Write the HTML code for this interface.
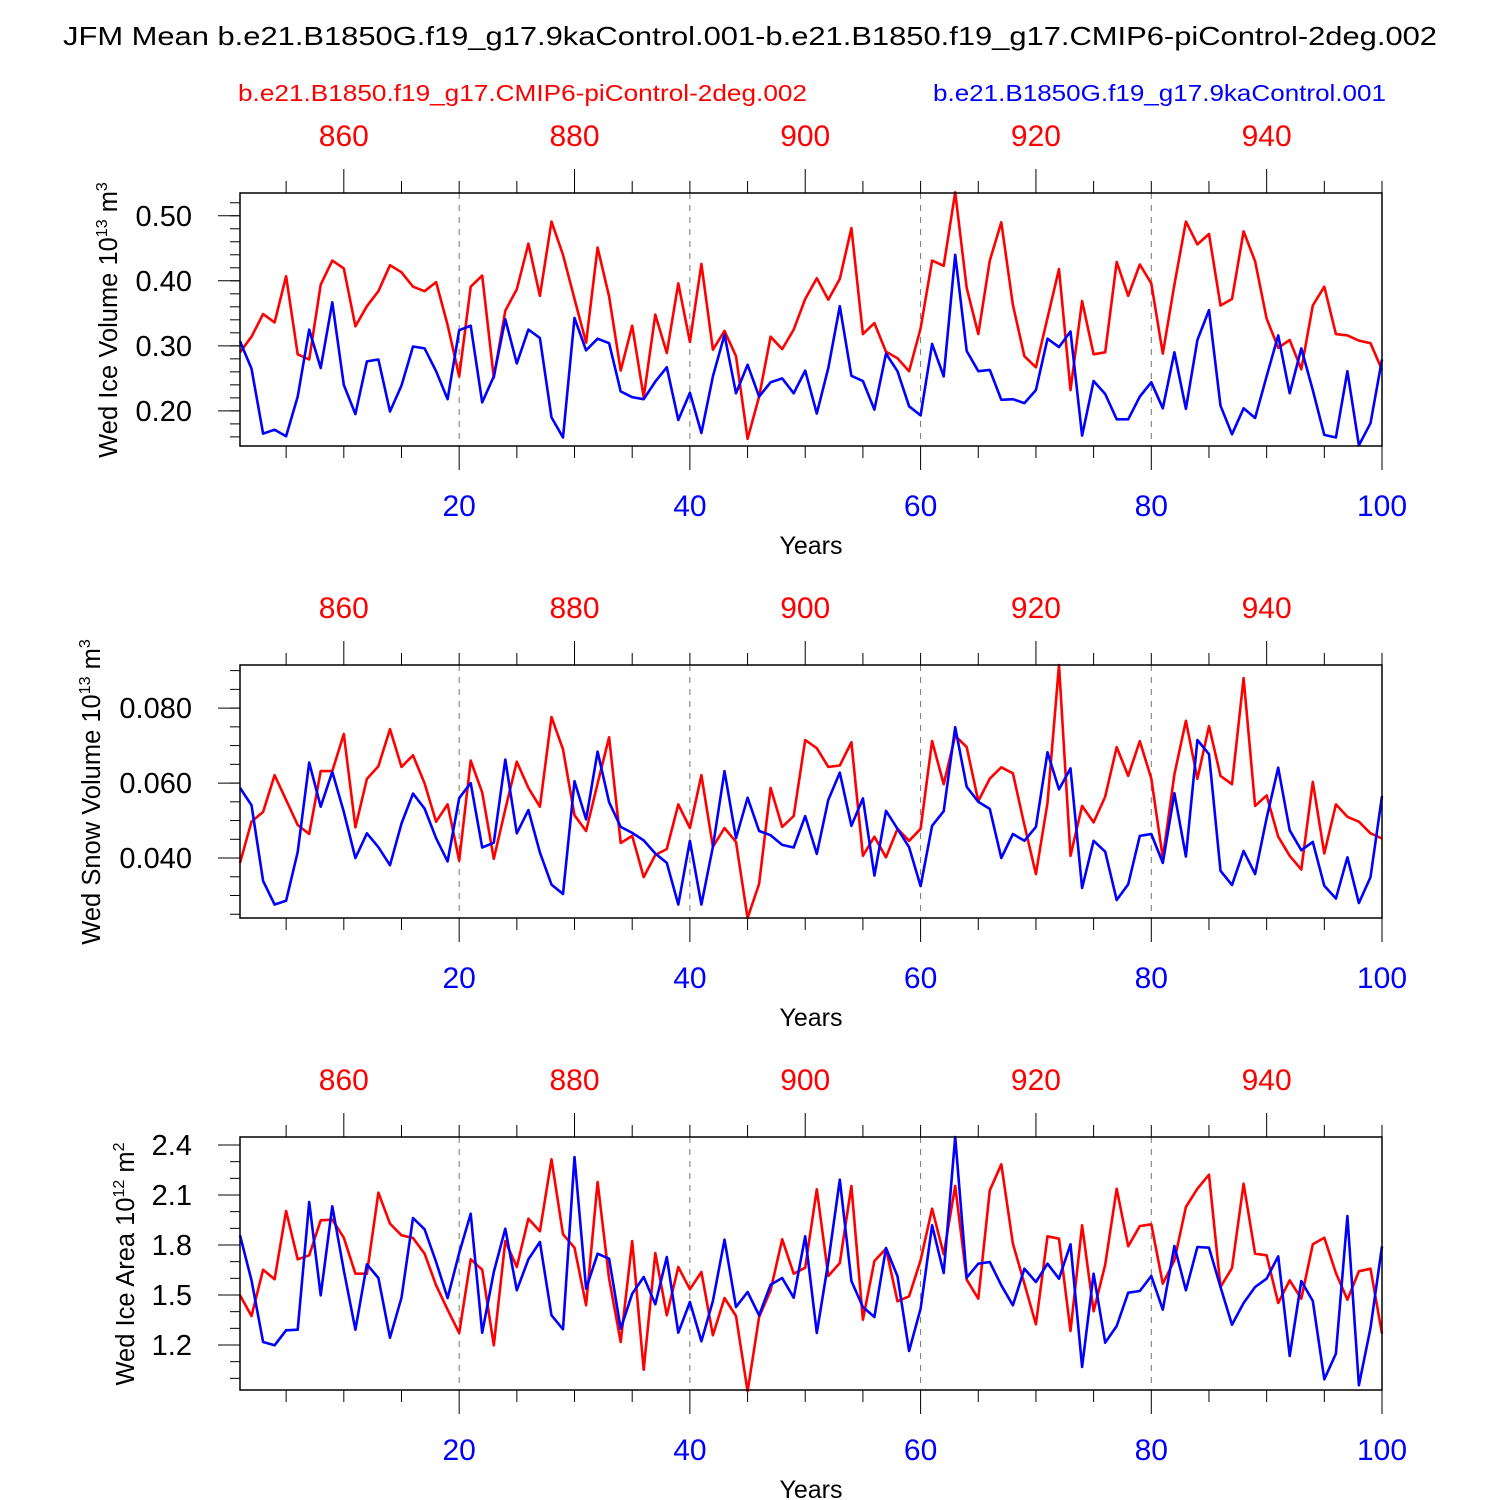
<!DOCTYPE html>
<html><head><meta charset="utf-8"><style>
html,body{margin:0;padding:0;background:#fff;}
svg{display:block;font-family:"Liberation Sans",Arial,sans-serif;}
</style></head><body>
<svg id="chart" width="1500" height="1500" viewBox="0 0 1500 1500" xmlns="http://www.w3.org/2000/svg">
<text x="63" y="45" font-size="26" textLength="1374" lengthAdjust="spacingAndGlyphs">JFM Mean b.e21.B1850G.f19_g17.9kaControl.001-b.e21.B1850.f19_g17.CMIP6-piControl-2deg.002</text>
<text x="238" y="101" font-size="23" fill="#ff0000" textLength="569" lengthAdjust="spacingAndGlyphs">b.e21.B1850.f19_g17.CMIP6-piControl-2deg.002</text>
<text x="933" y="101" font-size="23" fill="#0000ff" textLength="453" lengthAdjust="spacingAndGlyphs">b.e21.B1850G.f19_g17.9kaControl.001</text>
<g id="panels"></g>
</svg>
<script>
const years = Array.from({length:100},(_,i)=>i+1);
const bottomTicks = [20,40,60,80,100];
const topTicks = [860,880,900,920,940];
const redYearOffset = 850;

const iceVolRed = [0.290,0.314,0.349,0.336,0.407,0.287,0.279,0.394,0.431,0.419,0.330,0.361,0.384,0.424,0.413,0.391,0.384,0.398,0.332,0.253,0.391,0.408,0.251,0.354,0.387,0.457,0.377,0.491,0.440,0.372,0.305,0.451,0.376,0.262,0.331,0.221,0.348,0.289,0.396,0.306,0.426,0.294,0.323,0.284,0.157,0.222,0.314,0.295,0.325,0.372,0.404,0.371,0.403,0.481,0.318,0.335,0.291,0.281,0.261,0.327,0.431,0.423,0.536,0.389,0.318,0.431,0.490,0.363,0.284,0.267,0.343,0.418,0.232,0.369,0.287,0.290,0.429,0.377,0.425,0.396,0.288,0.394,0.491,0.456,0.472,0.362,0.372,0.476,0.430,0.342,0.297,0.309,0.264,0.362,0.391,0.318,0.316,0.308,0.304,0.263];
const iceVolBlue = [0.307,0.265,0.165,0.171,0.161,0.222,0.325,0.266,0.367,0.240,0.195,0.276,0.279,0.199,0.239,0.299,0.296,0.261,0.218,0.324,0.331,0.213,0.253,0.341,0.273,0.325,0.312,0.190,0.159,0.343,0.293,0.311,0.304,0.230,0.221,0.218,0.245,0.267,0.186,0.228,0.166,0.253,0.317,0.227,0.271,0.222,0.244,0.250,0.227,0.262,0.196,0.266,0.361,0.254,0.246,0.202,0.288,0.261,0.207,0.193,0.303,0.253,0.440,0.292,0.261,0.263,0.217,0.218,0.212,0.232,0.311,0.298,0.322,0.162,0.246,0.226,0.187,0.187,0.222,0.244,0.204,0.290,0.203,0.309,0.355,0.208,0.164,0.204,0.189,0.253,0.316,0.227,0.296,0.232,0.163,0.159,0.261,0.147,0.181,0.279];
const snowVolRed = [0.0387,0.0497,0.0523,0.0621,0.0555,0.0488,0.0464,0.0632,0.0632,0.0731,0.0482,0.0611,0.0645,0.0744,0.0643,0.0674,0.0599,0.0497,0.0543,0.0393,0.0660,0.0575,0.0398,0.0530,0.0657,0.0587,0.0537,0.0776,0.0690,0.0514,0.0472,0.0599,0.0722,0.0440,0.0459,0.0349,0.0408,0.0424,0.0543,0.0480,0.0621,0.0430,0.0480,0.0443,0.0240,0.0331,0.0587,0.0483,0.0512,0.0715,0.0693,0.0643,0.0647,0.0709,0.0406,0.0457,0.0402,0.0478,0.0446,0.0478,0.0712,0.0597,0.0726,0.0696,0.0552,0.0612,0.0642,0.0626,0.0488,0.0357,0.0547,0.0915,0.0406,0.0539,0.0495,0.0564,0.0696,0.0619,0.0712,0.0612,0.0400,0.0623,0.0766,0.0611,0.0752,0.0619,0.0597,0.0880,0.0539,0.0567,0.0457,0.0406,0.0369,0.0603,0.0412,0.0543,0.0510,0.0497,0.0466,0.0452];
const snowVolBlue = [0.0587,0.0541,0.0339,0.0276,0.0286,0.0416,0.0655,0.0537,0.0630,0.0523,0.0400,0.0466,0.0429,0.0381,0.0492,0.0572,0.0532,0.0453,0.0391,0.0560,0.0600,0.0428,0.0441,0.0663,0.0466,0.0528,0.0415,0.0329,0.0304,0.0605,0.0503,0.0684,0.0549,0.0483,0.0467,0.0447,0.0412,0.0387,0.0276,0.0446,0.0276,0.0430,0.0632,0.0453,0.0561,0.0472,0.0461,0.0435,0.0428,0.0512,0.0411,0.0555,0.0628,0.0486,0.0559,0.0353,0.0526,0.0478,0.0429,0.0325,0.0486,0.0525,0.0749,0.0590,0.0550,0.0531,0.0400,0.0464,0.0446,0.0483,0.0682,0.0583,0.0639,0.0320,0.0446,0.0417,0.0288,0.0330,0.0459,0.0464,0.0387,0.0573,0.0404,0.0715,0.0677,0.0366,0.0328,0.0419,0.0357,0.0506,0.0641,0.0474,0.0421,0.0443,0.0326,0.0292,0.0402,0.0280,0.0349,0.0565];
const iceAreaRed = [1.498,1.374,1.652,1.594,2.004,1.714,1.738,1.948,1.952,1.844,1.628,1.628,2.114,1.928,1.858,1.842,1.748,1.558,1.412,1.272,1.714,1.652,1.198,1.824,1.668,1.958,1.882,2.314,1.864,1.784,1.438,2.178,1.598,1.218,1.824,1.052,1.752,1.378,1.668,1.534,1.638,1.258,1.482,1.374,0.922,1.368,1.528,1.834,1.628,1.664,2.134,1.614,1.692,2.154,1.352,1.704,1.778,1.462,1.492,1.708,2.018,1.744,2.154,1.592,1.478,2.128,2.284,1.808,1.568,1.324,1.852,1.838,1.284,1.918,1.402,1.682,2.138,1.792,1.914,1.924,1.568,1.708,2.028,2.138,2.222,1.548,1.662,2.168,1.748,1.738,1.452,1.588,1.478,1.804,1.844,1.632,1.472,1.642,1.658,1.268];
const iceAreaBlue = [1.858,1.588,1.218,1.198,1.288,1.292,2.058,1.498,2.032,1.648,1.292,1.684,1.602,1.244,1.484,1.962,1.894,1.698,1.482,1.752,1.988,1.274,1.638,1.898,1.528,1.714,1.818,1.378,1.294,2.328,1.538,1.748,1.718,1.298,1.508,1.608,1.444,1.728,1.274,1.458,1.222,1.464,1.832,1.428,1.518,1.378,1.562,1.602,1.484,1.852,1.272,1.698,2.192,1.584,1.428,1.368,1.782,1.612,1.164,1.418,1.918,1.632,2.448,1.604,1.688,1.698,1.558,1.438,1.658,1.578,1.688,1.598,1.804,1.068,1.628,1.214,1.314,1.514,1.524,1.614,1.412,1.794,1.528,1.788,1.784,1.548,1.322,1.452,1.548,1.598,1.732,1.134,1.584,1.464,0.994,1.148,1.974,0.958,1.302,1.792];

const panel1Ticks = ["0.20","0.30","0.40","0.50"];
const panel2Ticks = ["0.040","0.060","0.080"];
const panel3Ticks = ["1.2","1.5","1.8","2.1","2.4"];

const NS = "http://www.w3.org/2000/svg";
const X0 = 240, X1 = 1382;
function xScale(v){ return X0 + (v-1)*(X1-X0)/99; }
function mk(tag, attrs, parent){
  const e = document.createElementNS(NS, tag);
  for (const k in attrs) e.setAttribute(k, attrs[k]);
  parent.appendChild(e); return e;
}
const root = document.getElementById('panels');

const panels = [
  {name:'ice-volume', top:193, lo:0.146, hi:0.535, red:iceVolRed, blue:iceVolBlue, ticks:panel1Ticks, minor:0.02, title:'Wed Ice Volume 10', exp1:'13', unit:' m', exp2:'3', tx:117, ty:320},
  {name:'snow-volume', top:665, lo:0.024, hi:0.0915, red:snowVolRed, blue:snowVolBlue, ticks:panel2Ticks, minor:0.005, title:'Wed Snow Volume 10', exp1:'13', unit:' m', exp2:'3', tx:100, ty:792},
  {name:'ice-area', top:1137, lo:0.93, hi:2.448, red:iceAreaRed, blue:iceAreaBlue, ticks:panel3Ticks, minor:0.1, title:'Wed Ice Area 10', exp1:'12', unit:' m', exp2:'2', tx:134, ty:1264}
];
const H = 253;

panels.forEach(p => {
  const g = mk('g', {}, root);
  
  
  const yS = v => p.top + H - (v - p.lo)/(p.hi - p.lo)*H;
  const bot = p.top + H;
  [20,40,60,80].forEach(v => {
    const l = mk('line', {x1:xScale(v), x2:xScale(v), y1:p.top, y2:bot, stroke:'#777', 'stroke-width':1, 'stroke-dasharray':'6,6'}, g);
    
    
  });
  for (let v = 5; v <= 100; v += 5) {
    const major = v % 20 === 0;
    const t = mk('line', {x1:xScale(v), x2:xScale(v), y1:bot, y2:bot + (major?24:12), stroke:'#000', 'stroke-width':1}, g);
    
    
  }
  for (let ry = 855; ry <= 950; ry += 5) {
    const major = ry % 20 === 0;
    const xv = xScale(ry - redYearOffset);
    const t = mk('line', {x1:xv, x2:xv, y1:p.top, y2:p.top - (major?24:12), stroke:'#000', 'stroke-width':1}, g);
    
    
  }
  const start = Math.ceil(p.lo/p.minor - 1e-6);
  for (let k = start; k*p.minor <= p.hi + 1e-9; k++) {
    const yv = yS(k*p.minor);
    const t = mk('line', {x1:X0-10, x2:X0, y1:yv, y2:yv, stroke:'#000', 'stroke-width':1}, g);
    
    
  }
  p.ticks.forEach(s => {
    const yv = yS(parseFloat(s));
    const t = mk('line', {x1:X0-22, x2:X0, y1:yv, y2:yv, stroke:'#000', 'stroke-width':1}, g);
    
    
    const lb = mk('text', {x:192, y:yv+10, 'font-size':29, 'text-anchor':'end'}, g);
    lb.textContent = s;
    
    
  });
  [['red','#ff0000'],['blue','#0000ff']].forEach(([k,c]) => {
    const vals = p[k];
    const d = years.map((yr,i) => (i?'L':'M') + xScale(yr).toFixed(1) + ',' + yS(vals[i]).toFixed(1)).join('');
    const path = mk('path', {d:d, fill:'none', stroke:c, 'stroke-width':2.6, 'stroke-linejoin':'round'}, g);
    
    
  });
  const fr = mk('rect', {x:X0, y:p.top, width:X1-X0, height:H, fill:'none', stroke:'#000', 'stroke-width':1.5}, g);
  
  
  bottomTicks.forEach(v => {
    const t = mk('text', {x:xScale(v), y:bot+70, 'font-size':30, 'text-anchor':'middle', fill:'#0000ff'}, g);
    t.textContent = v;
    
    
  });
  topTicks.forEach(v => {
    const t = mk('text', {x:xScale(v - redYearOffset), y:p.top-47, 'font-size':30, 'text-anchor':'middle', fill:'#ff0000'}, g);
    t.textContent = v;
    
    
  });
  const xt = mk('text', {x:811, y:bot+108, 'font-size':25, 'text-anchor':'middle'}, g);
  xt.textContent = 'Years';
  
  
  const yt = mk('text', {x:0, y:0, 'font-size':25.5, 'text-anchor':'middle', transform:`translate(${p.tx},${p.ty}) rotate(-90)`}, g);
  
  
  const a = mk('tspan', {}, yt); a.textContent = p.title;
  const b = mk('tspan', {dy:-10, 'font-size':16}, yt); b.textContent = p.exp1;
  const c = mk('tspan', {dy:10}, yt); c.textContent = p.unit;
  const d2 = mk('tspan', {dy:-10, 'font-size':16}, yt); d2.textContent = p.exp2;
});
</script>
</body></html>
